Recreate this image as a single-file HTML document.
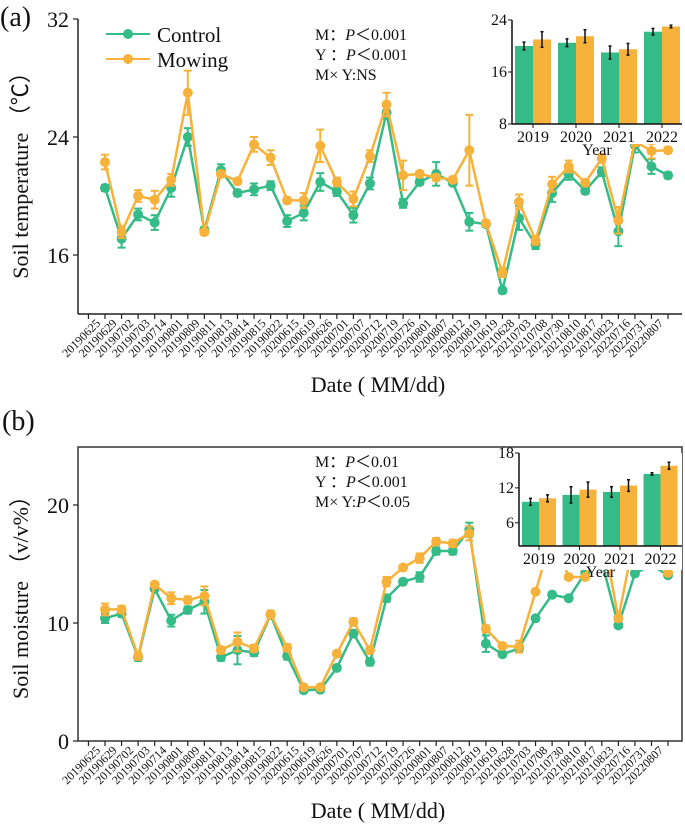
<!DOCTYPE html>
<html><head><meta charset="utf-8"><style>
html,body{margin:0;padding:0;background:#fff;}
svg{display:block;}
svg text{font-family:"Liberation Serif","Times New Roman",serif;}
</style></head><body>
<svg id="chart" width="685" height="824" viewBox="0 0 685 824" xmlns="http://www.w3.org/2000/svg" font-family="Liberation Serif, serif"></svg>
<script>
const dates=["20190625","20190629","20190702","20190703","20190714","20190801","20190809","20190811","20190813","20190814","20190815","20190822","20200615","20200619","20200626","20200701","20200707","20200712","20200719","20200726","20200801","20200807","20200812","20200819","20210619","20210628","20210703","20210708","20210730","20210810","20210817","20210823","20220716","20220731","20220807"];
const tempControl=[20.55,17.1,18.75,18.2,20.55,24.0,17.7,21.75,20.2,20.45,20.7,18.3,18.85,20.95,20.3,18.7,20.85,25.65,19.5,20.95,21.5,20.9,18.25,18.1,13.6,18.5,16.7,20.2,21.5,20.35,21.65,17.6,23.45,22.0,21.4];
const tempControlErr=[0.2,0.6,0.4,0.5,0.6,0.6,0.2,0.4,0.2,0.4,0.3,0.4,0.5,0.6,0.3,0.5,0.4,0.4,0.3,0.2,0.8,0.2,0.6,0.2,0.2,0.8,0.3,0.6,0.4,0.2,0.3,1.0,0.5,0.5,0.2];
const tempMowing=[22.3,17.55,20.0,19.75,21.1,27.0,17.55,21.5,21.0,23.5,22.6,19.7,19.7,23.4,20.95,19.8,22.7,26.2,21.4,21.5,21.25,21.1,23.1,18.15,14.8,19.6,17.0,20.8,22.0,20.9,22.55,18.35,23.7,23.05,23.1];
const tempMowingErr=[0.5,0.4,0.4,0.6,0.4,1.5,0.2,0.2,0.2,0.5,0.5,0.2,0.5,1.1,0.3,0.5,0.4,0.8,1.0,0.2,0.2,0.2,2.4,0.2,0.3,0.5,0.3,0.5,0.4,0.2,0.3,0.9,0.3,0.5,0.2];
const moistControl=[10.4,10.8,7.1,12.9,10.2,11.1,11.8,7.1,7.7,7.5,10.7,7.2,4.3,4.35,6.2,9.1,6.7,12.1,13.5,13.9,16.1,16.1,17.9,8.25,7.35,7.85,10.4,12.4,12.1,14.25,15.2,9.8,14.2,14.9,14.05];
const moistControlErr=[0.4,0.3,0.3,0.2,0.5,0.3,1.0,0.3,1.2,0.3,0.3,0.3,0.2,0.2,0.2,0.3,0.3,0.3,0.2,0.4,0.3,0.3,0.6,0.7,0.2,0.3,0.2,0.2,0.2,0.2,0.2,0.2,0.2,0.2,0.2];
const moistMowing=[11.15,11.15,7.2,13.25,12.1,11.95,12.3,7.7,8.4,7.85,10.75,7.9,4.55,4.55,7.4,10.1,7.7,13.5,14.7,15.5,16.9,16.75,17.6,9.5,8.05,8.0,12.65,17.5,13.9,13.9,18.0,10.4,17.5,15.9,14.25];
const moistMowingErr=[0.5,0.3,0.3,0.2,0.5,0.3,0.8,0.3,0.8,0.3,0.3,0.3,0.2,0.2,0.2,0.3,0.3,0.4,0.2,0.4,0.3,0.3,0.6,0.3,0.2,0.5,0.2,0.2,0.2,0.2,0.2,0.2,0.2,0.2,0.2];
const years=["2019","2020","2021","2022"];
const insetTempControl=[20.0,20.5,19.0,22.2];
const insetTempControlErr=[0.6,0.6,1.0,0.5];
const insetTempMowing=[21.0,21.5,19.5,23.0];
const insetTempMowingErr=[1.2,1.0,0.9,0.2];
const insetMoistControl=[9.6,10.8,11.3,14.4];
const insetMoistControlErr=[0.6,1.4,0.9,0.2];
const insetMoistMowing=[10.2,11.7,12.4,15.8];
const insetMoistMowingErr=[0.6,1.3,1.0,0.6];
const tempTicks=[16,24,32];
const moistTicks=[0,10,20];
const insetTempTicks=[8,16,24];
const insetMoistTicks=[6,12,18];

const G="#35bb87",O="#f6b23a";
const FONT="Liberation Serif, Times New Roman, serif";
const svg=document.getElementById('chart');
const NS="http://www.w3.org/2000/svg";
function mk(tag,attrs,parent){const e=document.createElementNS(NS,tag);for(const k in attrs)e.setAttribute(k,attrs[k]);(parent||svg).appendChild(e);return e;}
function txt(s,attrs,parent){attrs['font-family']=FONT;const e=mk('text',attrs,parent);e.textContent=s;return e;}
const xScale=i=>105+i*16.56;

function panel(cfg){
  const g=mk('g',{});
  
  
  const y=v=>cfg.y0px-(v-cfg.min)*(cfg.y0px-cfg.y1px)/(cfg.max-cfg.min);
  const bottom=cfg.bottom;
  const ax=mk('g',{},g);
  
  
  if(cfg.box){mk('rect',{x:78,y:cfg.top,width:604,height:bottom-cfg.top,fill:'none',stroke:'#333',"stroke-width":1.5},ax);}
  else{mk('line',{x1:78,y1:cfg.top,x2:78,y2:bottom,stroke:'#222',"stroke-width":1.5},ax);mk('line',{x1:78,y1:bottom,x2:682,y2:bottom,stroke:'#222',"stroke-width":1.5},ax);}
  cfg.ticks.forEach(t=>{mk('line',{x1:73,x2:78,y1:y(t),y2:y(t),stroke:'#222',"stroke-width":1.2},ax);
    const l=txt(String(t),{x:69,y:y(t)+8,"text-anchor":"end","font-size":22,fill:'#111'},ax);
    });
  for(let i=-1;i<dates.length;i++){const x=xScale(i);mk('line',{x1:x,x2:x,y1:bottom,y2:bottom+5,stroke:'#222',"stroke-width":1.2},ax);}
  dates.forEach((d,i)=>{const x=xScale(i)-4,yy=bottom+10;
    const l=txt(d,{x:x,y:yy,"text-anchor":"end","font-size":12,fill:'#111',transform:`rotate(-45 ${x} ${yy})`},ax);
    });
  [[cfg.c,cfg.ce,G,'control-series'],[cfg.m,cfg.me,O,'mowing-series']].forEach(([vals,errs,col,nm])=>{
    const s=mk('g',{},g);
    
    
    mk('polyline',{points:vals.map((v,i)=>xScale(i)+','+y(v)).join(' '),fill:'none',stroke:col,"stroke-width":2.5},s);
    vals.forEach((v,i)=>{const x=xScale(i);
      mk('line',{x1:x,x2:x,y1:y(v-errs[i]),y2:y(v+errs[i]),stroke:col,"stroke-width":2},s);
      mk('line',{x1:x-4,x2:x+4,y1:y(v-errs[i]),y2:y(v-errs[i]),stroke:col,"stroke-width":2},s);
      mk('line',{x1:x-4,x2:x+4,y1:y(v+errs[i]),y2:y(v+errs[i]),stroke:col,"stroke-width":2},s);
      const p=mk('circle',{cx:x,cy:y(v),r:5,fill:col},s);
      });
  });
  const ig=mk('g',{},g);
  
  
  const I=cfg.inset;
  mk('rect',{x:I.left,y:I.top,width:682-I.left,height:I.bottom-I.top+I.pad,fill:'#fff'},ig);
  const iy=v=>I.bottom-(v-I.min)*(I.bottom-I.top)/(I.max-I.min);
  const bw=I.bw;
  years.forEach((yr,k)=>{const cx=I.c0+k*I.step;
    [[I.c,I.ce,G,cx-bw],[I.m,I.me,O,cx]].forEach(([vals,errs,col,bx])=>{
      const b=mk('rect',{x:bx,y:iy(vals[k]),width:bw,height:I.bottom-iy(vals[k]),fill:col},ig);
      
      const ex=bx+bw/2;
      mk('line',{x1:ex,x2:ex,y1:iy(vals[k]-errs[k]),y2:iy(vals[k]+errs[k]),stroke:'#111',"stroke-width":1.5},ig);
      mk('line',{x1:ex-1.5,x2:ex+1.5,y1:iy(vals[k]-errs[k]),y2:iy(vals[k]-errs[k]),stroke:'#111',"stroke-width":1.5},ig);
      mk('line',{x1:ex-1.5,x2:ex+1.5,y1:iy(vals[k]+errs[k]),y2:iy(vals[k]+errs[k]),stroke:'#111',"stroke-width":1.5},ig);
    });
    mk('line',{x1:cx,x2:cx,y1:I.bottom,y2:I.bottom+4,stroke:'#111'},ig);
    txt(yr,{x:cx,y:I.bottom+18,"text-anchor":"middle","font-size":16,fill:'#111'},ig);
  });
  mk('line',{x1:I.left,x2:I.left,y1:I.top,y2:I.bottom,stroke:'#111',"stroke-width":1.5},ig);
  mk('line',{x1:I.left,x2:682,y1:I.bottom,y2:I.bottom,stroke:'#111',"stroke-width":1.5},ig);
  I.ticks.forEach(t=>{mk('line',{x1:I.left-4,x2:I.left,y1:iy(t),y2:iy(t),stroke:'#111'},ig);
    txt(String(t),{x:I.left-5,y:iy(t)+5,"text-anchor":"end","font-size":16,fill:'#111'},ig);});
  txt('Year',{x:(I.left+682)/2,y:I.bottom+31,"text-anchor":"middle","font-size":16,fill:'#111'},ig);
  return g;
}

panel({name:'panel-a-soil-temperature',top:19,bottom:314,y0px:255,y1px:137,min:16,max:24,ticks:tempTicks,box:false,
  c:tempControl,ce:tempControlErr,m:tempMowing,me:tempMowingErr,
  inset:{left:512,top:20,bottom:124,pad:20,min:8,max:24,ticks:insetTempTicks,c0:533,step:43,bw:18,
    c:insetTempControl,ce:insetTempControlErr,m:insetTempMowing,me:insetTempMowingErr}});
panel({name:'panel-b-soil-moisture',top:447,bottom:741,y0px:741,y1px:623,min:0,max:10,ticks:moistTicks,box:true,
  c:moistControl,ce:moistControlErr,m:moistMowing,me:moistMowingErr,
  inset:{left:519,top:453,bottom:546,pad:24,min:2,max:18,ticks:insetMoistTicks,c0:539,step:40.5,bw:17,
    c:insetMoistControl,ce:insetMoistControlErr,m:insetMoistMowing,me:insetMoistMowingErr}});

function t2(s,a,name){const e=txt(s,a);return e;}
t2('(a)',{x:0,y:26,"font-size":28,fill:'#111'},'panel-a-label');
t2('(b)',{x:2,y:430,"font-size":28,fill:'#111'},'panel-b-label');
const lg=mk('g',{});


[[G,'Control',34],[O,'Mowing',59]].forEach(([c,l,yy])=>{
  mk('line',{x1:106,x2:150,y1:yy,y2:yy,stroke:c,"stroke-width":2},lg);
  mk('circle',{cx:128,cy:yy,r:5,fill:c},lg);
  const e=txt(l,{x:157,y:yy+8,"font-size":21,fill:'#111'},lg);
  
});
function stats(lines,y0){lines.forEach((h,i)=>{const e=mk('text',{x:315,y:y0+i*20,"font-size":16,fill:'#111',"font-family":FONT});e.innerHTML=h;});}
stats(['M：<tspan font-style="italic">P</tspan>＜0.001','Y ：<tspan font-style="italic">P</tspan>＜0.001','M× Y:NS'],40);
stats(['M：<tspan font-style="italic">P</tspan>＜0.01','Y ：<tspan font-style="italic">P</tspan>＜0.001','M× Y:<tspan font-style="italic">P</tspan>＜0.05'],467);
t2('Soil temperature （℃）',{x:0,y:0,"font-size":22,fill:'#111',"text-anchor":"middle",transform:'translate(28 170) rotate(-90)'},'y-axis-title-a');
t2('Soil moisture （v/v%）',{x:0,y:0,"font-size":22,fill:'#111',"text-anchor":"middle",transform:'translate(28 592) rotate(-90)'},'y-axis-title-b');
t2('Date ( MM/dd)',{x:378,y:392,"font-size":22,fill:'#111',"text-anchor":"middle"},'x-axis-title-a');
t2('Date ( MM/dd)',{x:378,y:818,"font-size":22,fill:'#111',"text-anchor":"middle"},'x-axis-title-b');
</script>
</body></html>
